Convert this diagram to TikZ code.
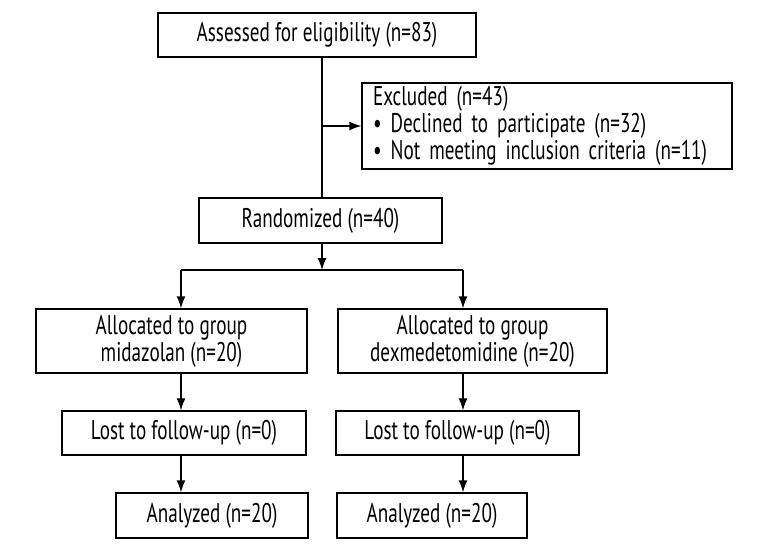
\documentclass[tikz,border=0pt]{standalone}
\usepackage{fontspec}
\setmainfont{PT Sans}[FakeStretch=0.71]
\usetikzlibrary{arrows.meta}
\begin{document}
\begin{tikzpicture}[x=1pt,y=-1pt,
    box/.style={draw,line width=1.3pt,inner sep=0pt,align=center,font=\fontsize{27}{27}\selectfont},
    arr/.style={-{Latex[length=12pt,width=9pt]}}]
    \useasboundingbox (0,0) rectangle (768,552);

    %boxes:
    \node[box,minimum width=318,minimum height=44] (assess) at (317,35) {Assessed for eligibility (n=83)};
    \node[box,align=left,text width=348pt,inner xsep=11pt,minimum height=86] (excl) at (547,126)
        {Excluded (n=43)\\• Declined to participate (n=32)\\• Not meeting inclusion criteria (n=11)};
    \node[box,minimum width=243,minimum height=45] (rand) at (320.5,220.5) {Randomized (n=40)};
    \node[box,minimum width=271,minimum height=64] (alloc1) at (171.5,341) {Allocated to group\\midazolan (n=20)};
    \node[box,minimum width=269,minimum height=64] (alloc2) at (472.5,341) {Allocated to group\\dexmedetomidine (n=20)};
    \node[box,minimum width=244,minimum height=44] (lost1) at (184,433) {Lost to follow-up (n=0)};
    \node[box,minimum width=243,minimum height=44] (lost2) at (457.5,433) {Lost to follow-up (n=0)};
    \node[box,minimum width=192,minimum height=45] (ana1) at (212,515.5) {Analyzed (n=20)};
    \node[box,minimum width=190,minimum height=45] (ana2) at (432,515.5) {Analyzed (n=20)};

    %branch points:
    \coordinate (fork) at (322,270);
    \coordinate (left) at (181,270);
    \coordinate (right) at (463,270);

    %connectors:
    \begin{scope}[line width=1.3pt]
        \draw (assess.south -| fork) -- (rand.north -| fork);
        \draw[arr] (excl.west -| fork) -- (excl.west);
        \draw[arr] (rand.south -| fork) -- (fork);
        \draw (left) -- (right);
        \draw[arr] (left) -- (alloc1.north -| left);
        \draw[arr] (right) -- (alloc2.north -| right);
        \draw[arr] (alloc1.south -| left) -- (lost1.north -| left);
        \draw[arr] (alloc2.south -| right) -- (lost2.north -| right);
        \draw[arr] (lost1.south -| left) -- (ana1.north -| left);
        \draw[arr] (lost2.south -| right) -- (ana2.north -| right);
    \end{scope}

\end{tikzpicture}
\end{document}
